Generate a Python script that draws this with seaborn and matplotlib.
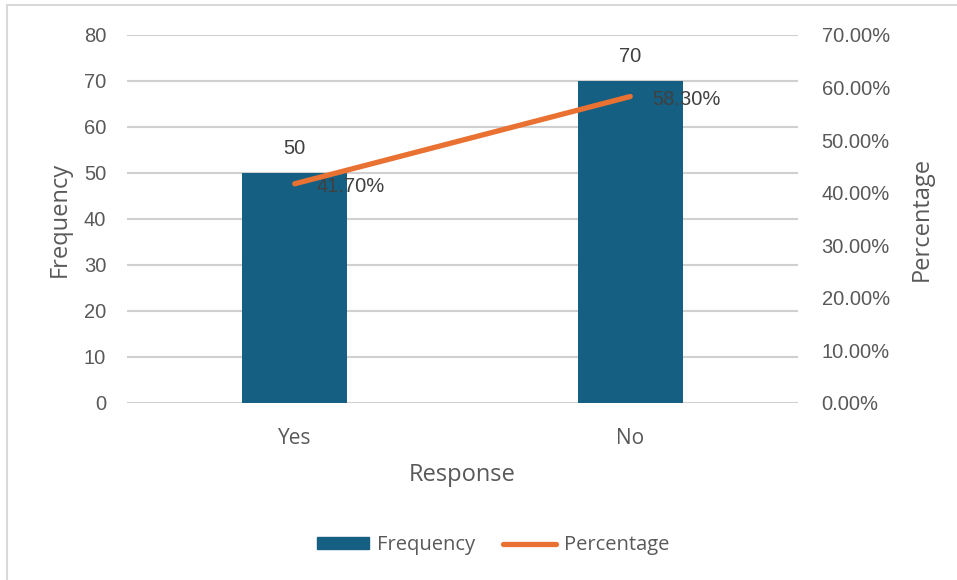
import matplotlib
matplotlib.use("Agg")
import matplotlib.pyplot as plt
import seaborn as sns
import pandas as pd
from matplotlib.patches import Rectangle
from matplotlib.ticker import FuncFormatter, MultipleLocator

# Survey responses
responses = ["Yes", "No"]
frequency = [50, 70]
percentage = [41.7, 58.3]

BAR_COLOR = "#156082"
LINE_COLOR = "#E97132"
TEXT_GRAY = "#595959"
GRID_GRAY = "#D9D9D9"
NUM_FONT = "Liberation Sans"
TXT_FONT = "Open Sans"

df = pd.DataFrame({"Response": responses, "Frequency": frequency, "Percentage": percentage})

sns.set_theme(style="white")
plt.rcParams["font.family"] = [NUM_FONT, "DejaVu Sans"]

fig = plt.figure(figsize=(9.57, 5.8), dpi=100)
ax = fig.add_axes([127 / 957, 1 - 403 / 580, (798 - 127) / 957, (403 - 35) / 580])

# Frequency bars
sns.barplot(data=df, x="Response", y="Frequency", color=BAR_COLOR, width=0.313,
            saturation=1, linewidth=0, ax=ax, zorder=3)
ax.set_ylim(0, 80)
ax.yaxis.set_major_locator(MultipleLocator(10))
ax.grid(axis="y", color="#D0D0D0", linewidth=1.5, zorder=0)
ax.set_axisbelow(True)
for s in ax.spines.values():
    s.set_visible(False)
ax.tick_params(axis="y", length=0, pad=15, labelsize=14.5, labelcolor=TEXT_GRAY)
ax.tick_params(axis="x", length=0, pad=18, labelsize=15, labelcolor=TEXT_GRAY)
for lab in ax.get_xticklabels():
    lab.set_fontfamily(TXT_FONT)
ax.set_xlabel("Response", fontsize=17, color=TEXT_GRAY, family=TXT_FONT, labelpad=10)
ax.set_ylabel("Frequency", fontsize=17, color=TEXT_GRAY, family=TXT_FONT, labelpad=9)

for i, v in enumerate(frequency):
    ax.annotate(f"{v}", (i, v), xytext=(0, 11), textcoords="offset points",
                ha="center", va="bottom", fontsize=14.5, color="#404040", family=NUM_FONT)

# Percentage line on the secondary axis
ax2 = ax.twinx()
sns.pointplot(data=df, x="Response", y="Percentage", color=LINE_COLOR, markers="",
              linewidth=3.8, ax=ax2, zorder=4)
ax2.set_ylim(0, 70)
ax2.yaxis.set_major_locator(MultipleLocator(10))
ax2.yaxis.set_major_formatter(FuncFormatter(lambda v, _: f"{v:.2f}%"))
for s in ax2.spines.values():
    s.set_visible(False)
ax2.tick_params(axis="y", length=0, pad=17, labelsize=14.5, labelcolor=TEXT_GRAY)
ax2.set_ylabel("Percentage", fontsize=17, color=TEXT_GRAY, family=TXT_FONT, labelpad=14)
ax2.set_xlabel("")
ax2.grid(False)
ax.set_xlim(-0.5, 1.5)

for i, p in enumerate(percentage):
    ax2.annotate(f"{p:.2f}%", (i, p), xytext=(16, -2), textcoords="offset points",
                 ha="left", va="center", fontsize=14.5, color="#404040", family=NUM_FONT)

# Legend
handles = [Rectangle((0, 0), 1, 1, color=BAR_COLOR),
           plt.Line2D([0], [0], color=LINE_COLOR, linewidth=3.8, solid_capstyle="round")]
fig.legend(handles, ["Frequency", "Percentage"], loc="center", ncol=2,
           bbox_to_anchor=(493 / 957, 1 - 545 / 580), frameon=False,
           prop={"family": TXT_FONT, "size": 14.5}, labelcolor=TEXT_GRAY,
           handlelength=2.6, handleheight=0.5, handletextpad=0.4, columnspacing=1.4)

# Chart frame
fig.patches.append(Rectangle((7.5 / 957, -0.1), 1.2, 1.1 - 5.5 / 580, transform=fig.transFigure,
                             fill=False, edgecolor=GRID_GRAY, linewidth=1.5))

fig.savefig("out.png", dpi=100)
